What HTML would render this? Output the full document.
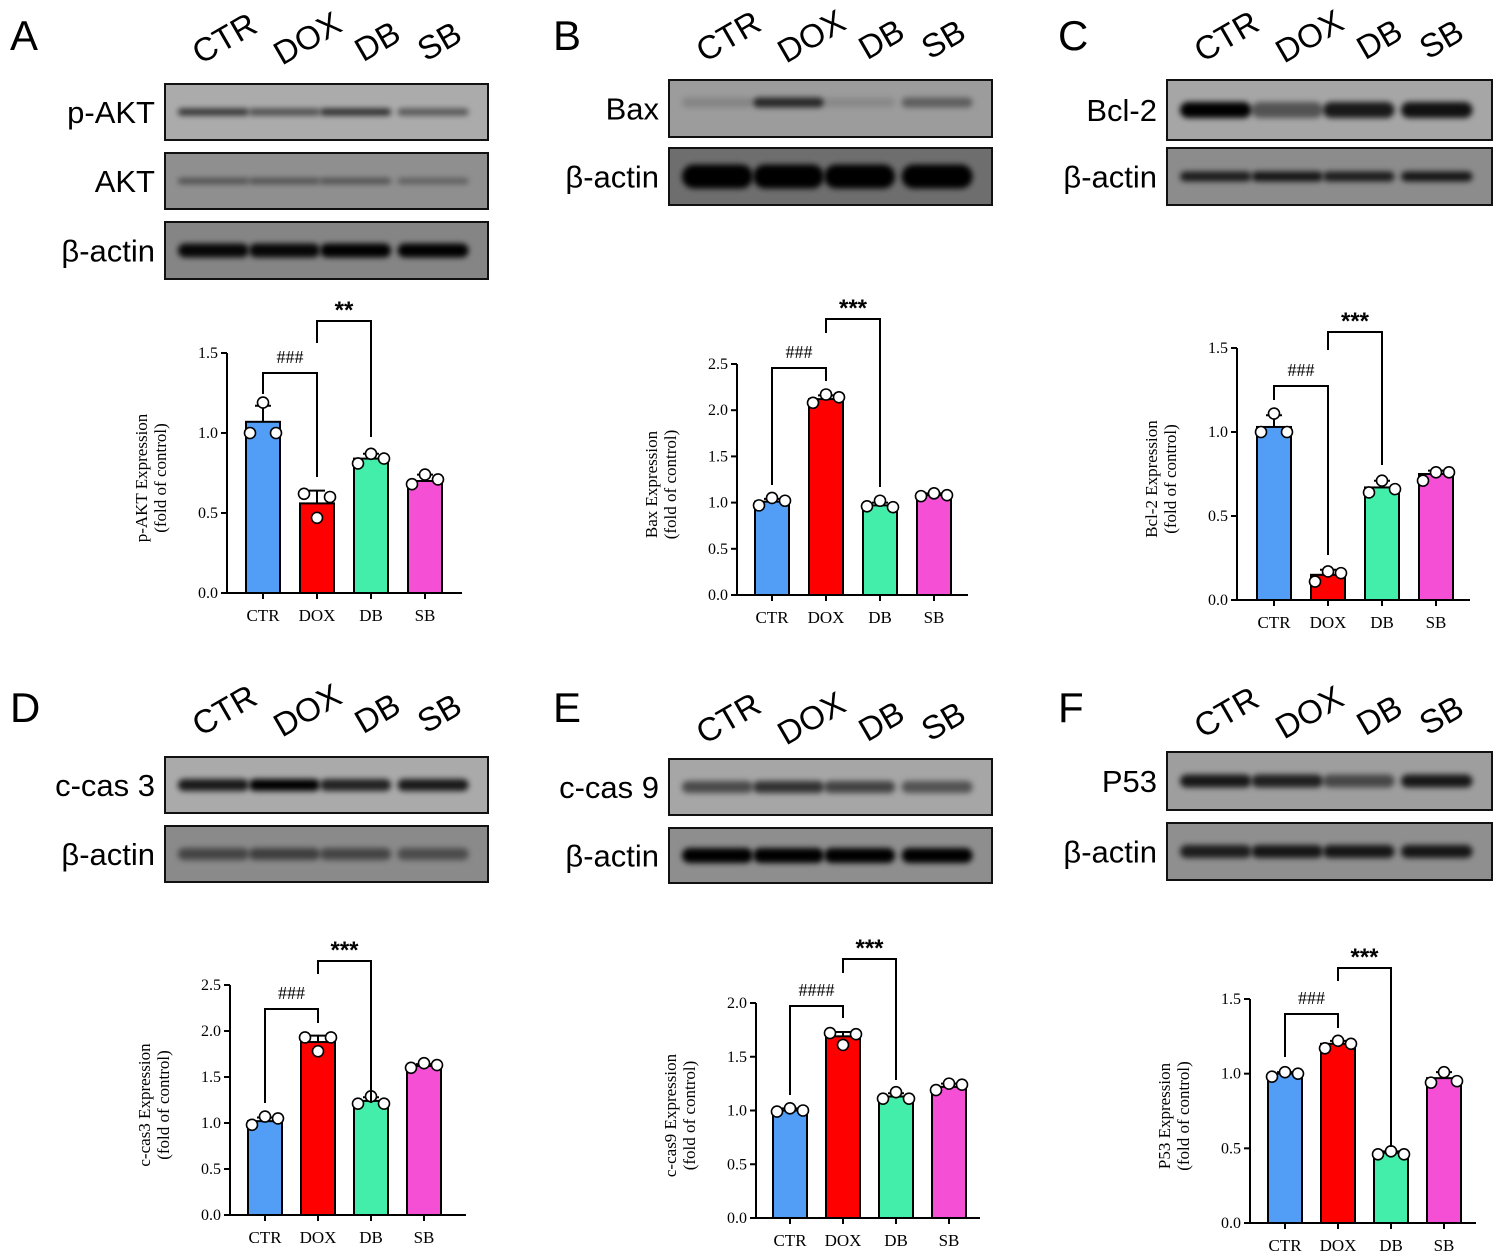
<!DOCTYPE html>
<html><head><meta charset="utf-8">
<style>
html,body{margin:0;padding:0;background:#fff;}
svg{display:block;}
.ax{font-family:"Liberation Serif",serif;}
.ar{font-family:"Liberation Sans",sans-serif;}
</style></head>
<body>
<svg id="fig" width="1494" height="1253" viewBox="0 0 1494 1253" xmlns="http://www.w3.org/2000/svg">
<defs><filter id="blur" x="-20%" y="-100%" width="140%" height="300%"><feGaussianBlur stdDeviation="2.8"/></filter></defs>
</svg>
<script>
const groups=["CTR","DOX","DB","SB"];
const colors=["#529ef6","#fe0000","#43eeab","#f54fd6"];
// Panel A p-AKT
const meansA=[1.07,0.56,0.84,0.70];
const sdA=[0.10,0.08,0.03,0.04];
const ptsA=[[1.0,1.19,1.0],[0.62,0.47,0.60],[0.81,0.87,0.84],[0.68,0.74,0.71]];
const ticksA=[0,0.5,1.0,1.5];
// Panel B Bax
const meansB=[1.01,2.12,0.97,1.08];
const sdB=[0.03,0.04,0.03,0.02];
const ptsB=[[0.97,1.05,1.02],[2.08,2.17,2.14],[0.96,1.02,0.95],[1.07,1.10,1.08]];
const ticksB=[0,0.5,1.0,1.5,2.0,2.5];
// Panel C Bcl-2
const meansC=[1.03,0.15,0.67,0.75];
const sdC=[0.07,0.03,0.04,0.02];
const ptsC=[[1.0,1.11,1.0],[0.11,0.17,0.16],[0.64,0.71,0.66],[0.71,0.76,0.76]];
const ticksC=[0,0.5,1.0,1.5];
// Panel D c-cas3
const meansD=[1.02,1.88,1.24,1.62];
const sdD=[0.04,0.07,0.04,0.02];
const ptsD=[[0.98,1.07,1.05],[1.93,1.78,1.93],[1.21,1.29,1.21],[1.60,1.65,1.63]];
const ticksD=[0,0.5,1.0,1.5,2.0,2.5];
// Panel E c-cas9
const meansE=[1.0,1.69,1.13,1.22];
const sdE=[0.02,0.04,0.03,0.03];
const ptsE=[[0.99,1.02,1.0],[1.72,1.61,1.71],[1.11,1.17,1.11],[1.19,1.25,1.24]];
const ticksE=[0,0.5,1.0,1.5,2.0];
// Panel F P53
const meansF=[1.0,1.20,0.47,0.97];
const sdF=[0.01,0.02,0.01,0.04];
const ptsF=[[0.98,1.01,1.0],[1.17,1.22,1.20],[0.46,0.48,0.46],[0.94,1.01,0.95]];
const ticksF=[0,0.5,1.0,1.5];

const NS="http://www.w3.org/2000/svg";
const svg=document.getElementById("fig");
function el(tag,attrs,parent,text){const e=document.createElementNS(NS,tag);for(const k in attrs)e.setAttribute(k,attrs[k]);if(text!==undefined)e.textContent=text;(parent||svg).appendChild(e);return e;}

const panels=[
 {id:"a",letter:"A",lx:10,ly:50,bx:165,bw:323,laneY:48,title:"p-AKT Expression",means:meansA,sd:sdA,pts:ptsA,ticks:ticksA,
  blots:[["p-AKT",84,140,"#ababab",[.7,.55,.75,.5],7],["AKT",153,209,"#8f8f8f",[.45,.45,.45,.35],6],["β-actin",222,279,"#858585",[.95,.95,1,1],14]],
  ax:227,zy:593,ty:353,b0:263,st:54,ex:462,br:[[0,1,373,394,477,"###"],[1,2,321,343,437,"**"]]},
 {id:"b",letter:"B",lx:553,ly:50,bx:669,bw:323,laneY:46,title:"Bax Expression",means:meansB,sd:sdB,pts:ptsB,ticks:ticksB,
  blots:[["Bax",80,137,"#9c9c9c",[.15,.75,.12,.4],10],["β-actin",148,205,"#6e6e6e",[1,1,1,1],24]],
  ax:737,zy:595,ty:364,b0:772,st:54,ex:968,br:[[0,1,368,485,381,"###"],[1,2,319,333,487,"***"]]},
 {id:"c",letter:"C",lx:1058,ly:50,bx:1167,bw:325,laneY:46,title:"Bcl-2 Expression",means:meansC,sd:sdC,pts:ptsC,ticks:ticksC,
  blots:[["Bcl-2",80,140,"#a6a6a6",[1,.5,.85,.9],16],["β-actin",148,205,"#8c8c8c",[.8,.85,.8,.85],10]],
  ax:1237,zy:600,ty:348,b0:1274,st:54,ex:1470,br:[[0,1,386,400,555,"###"],[1,2,332,350,465,"***"]]},
 {id:"d",letter:"D",lx:10,ly:722,bx:165,bw:323,laneY:720,title:"c-cas3 Expression",means:meansD,sd:sdD,pts:ptsD,ticks:ticksD,
  blots:[["c-cas 3",757,813,"#aaaaaa",[.85,1,.8,.85],12],["β-actin",826,882,"#8a8a8a",[.5,.55,.5,.45],12]],
  ax:230,zy:1215,ty:985,b0:265,st:53,ex:466,br:[[0,1,1009,1103,1023,"###"],[1,2,961,974,1103,"***"]]},
 {id:"e",letter:"E",lx:553,ly:722,bx:669,bw:323,laneY:728,title:"c-cas9 Expression",means:meansE,sd:sdE,pts:ptsE,ticks:ticksE,
  blots:[["c-cas 9",759,815,"#a6a6a6",[.55,.7,.6,.5],12],["β-actin",828,883,"#8e8e8e",[1,1,1,1],15]],
  ax:756,zy:1218,ty:1003,b0:790,st:53,ex:980,br:[[0,1,1006,1095,1018,"####"],[1,2,959,973,1080,"***"]]},
 {id:"f",letter:"F",lx:1058,ly:722,bx:1167,bw:325,laneY:722,title:"P53 Expression",means:meansF,sd:sdF,pts:ptsF,ticks:ticksF,
  blots:[["P53",752,810,"#9e9e9e",[.85,.8,.55,.85],13],["β-actin",823,880,"#8f8f8f",[.8,.85,.85,.85],13]],
  ax:1250,zy:1223,ty:999,b0:1285,st:53,ex:1476,br:[[0,1,1014,1057,1028,"###"],[1,2,968,981,1147,"***"]]}
];
const laneFrac=[0.15,0.37,0.59,0.83];
const labelOff=[65,148,218,280];

panels.forEach(p=>{
  const g=el("g",{});
  
  
  const L=el("text",{x:p.lx,y:p.ly,"font-size":42,class:"ar"},g,p.letter);
  
  
  groups.forEach((gn,i)=>{
    const x=p.bx+labelOff[i], y=p.laneY+(i>=2?3:0);
    const t=el("text",{x:x,y:y,"font-size":33,class:"ar","text-anchor":"middle",transform:`rotate(-30 ${x} ${y})`},g,gn);
    
    
  });
  p.blots.forEach((b,bi)=>{
    const [name,y1,y2,bg,ints,th]=b;
    const bg_=el("g",{},g);
    
    
    el("rect",{x:p.bx,y:y1,width:p.bw,height:y2-y1,fill:bg,stroke:"#111","stroke-width":2},bg_);
    const cy=(y1+y2)/2+(name==="Bax"?-6:0);
    ints.forEach((v,i)=>{
      const cx=p.bx+p.bw*laneFrac[i];
      const w=p.bw*0.22;
      const r=el("rect",{x:cx-w/2,y:cy-th/2,width:w,height:th,rx:th/2,fill:"#000","fill-opacity":v,filter:"url(#blur)"},bg_);
      
      
    });
    const lt=el("text",{x:p.bx-10,y:(y1+y2)/2+11,"font-size":31,class:"ar","text-anchor":"end"},bg_,name);
    
    
  });
  const ymax=p.ticks[p.ticks.length-1];
  const Y=v=>p.zy-(v/ymax)*(p.zy-p.ty);
  const X=i=>p.b0+i*p.st;
  const cg=el("g",{},g);
  
  
  p.means.forEach((m,i)=>{
    const bw=34;
    const bar=el("rect",{x:X(i)-bw/2,y:Y(m),width:bw,height:p.zy-Y(m),fill:colors[i],stroke:"#000","stroke-width":2},cg);
    
    
    const eb=el("path",{d:`M${X(i)} ${Y(m)}V${Y(m+p.sd[i])}M${X(i)-8} ${Y(m+p.sd[i])}H${X(i)+8}`,stroke:"#000","stroke-width":2,fill:"none"},cg);
    
    
    const offs=[-13,0,13];
    p.pts[i].forEach((v,k)=>{
      const c=el("circle",{cx:X(i)+offs[k],cy:Y(v),r:5.5,fill:"#fff",stroke:"#000","stroke-width":1.6},cg);
      
      
    });
    const xl=el("text",{x:X(i),y:p.zy+28,"font-size":17,class:"ax","text-anchor":"middle"},cg,groups[i]);
    
    
    el("line",{x1:X(i),x2:X(i),y1:p.zy,y2:p.zy+6,stroke:"#000","stroke-width":2},cg);
  });
  const axes=el("path",{d:`M${p.ax} ${p.ty}V${p.zy}H${p.ex}`,stroke:"#000","stroke-width":2,fill:"none"},cg);
  
  
  p.ticks.forEach(t=>{
    el("line",{x1:p.ax-6,x2:p.ax,y1:Y(t),y2:Y(t),stroke:"#000","stroke-width":2},cg);
    const tl=el("text",{x:p.ax-9,y:Y(t)+5,"font-size":16,class:"ax","text-anchor":"end"},cg,t.toFixed(1));
    
    
  });
  const cy=(p.zy+p.ty)/2+5;
  const t1=el("text",{x:p.ax-80,y:cy,"font-size":17,class:"ax","text-anchor":"middle",transform:`rotate(-90 ${p.ax-80} ${cy})`},cg,p.title);
  
  
  const t2=el("text",{x:p.ax-61,y:cy,"font-size":17,class:"ax","text-anchor":"middle",transform:`rotate(-90 ${p.ax-61} ${cy})`},cg,"(fold of control)");
  
  
  p.br.forEach(b=>{
    const [i1,i2,top,lb,rb,lab]=b;
    const bp=el("path",{d:`M${X(i1)} ${lb}V${top}H${X(i2)}V${rb}`,stroke:"#000","stroke-width":2,fill:"none"},cg);
    
    
    const star=lab.indexOf("*")>=0;
    const st=el("text",{x:(X(i1)+X(i2))/2,y:star?top-3:top-10,"font-size":star?24:18,"font-weight":star?"bold":"normal",class:star?"ar":"ax","text-anchor":"middle"},cg,lab);
    
    
  });
});
</script>
</body></html>
